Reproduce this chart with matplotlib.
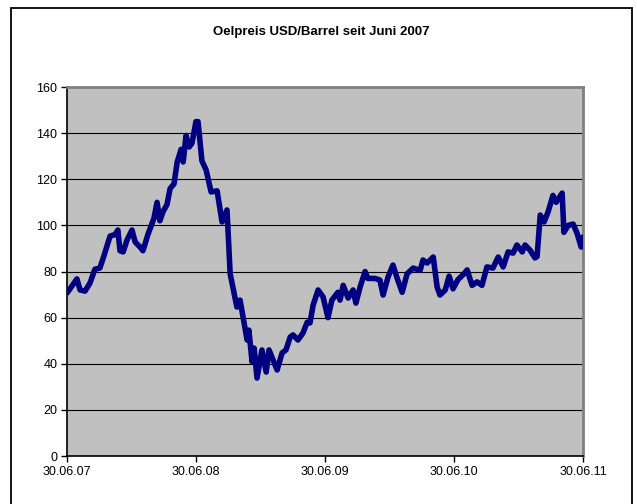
import datetime
import matplotlib
matplotlib.use("Agg")
import matplotlib.pyplot as plt
import matplotlib.dates as mdates
from matplotlib.patches import Rectangle

plt.rcParams['font.family'] = ['Liberation Sans', 'DejaVu Sans']

start = datetime.date(2007, 6, 30)

# days after 30.06.07 and oil price in USD/barrel
days = [0, 14, 28, 37, 51, 65, 79, 93, 105, 122, 136, 144, 150, 159, 170, 184,
        193, 207, 215, 229, 246, 255, 263, 272, 283, 292, 303, 312, 323, 329,
        337, 346, 354, 365, 371, 382, 394, 408, 425, 439, 453, 462, 481, 490,
        510, 515, 524, 530, 538, 552, 564, 572, 595, 609, 620, 632, 640, 654,
        668, 680, 688, 697, 711, 725, 739, 750, 767, 773, 782, 796, 810, 818,
        830, 844, 852, 872, 886, 895, 909, 923, 935, 949, 963, 980, 1000, 1008,
        1020, 1037, 1048, 1056, 1071, 1082, 1093, 1107, 1124, 1133, 1147, 1161,
        1175, 1189, 1206, 1221, 1235, 1249, 1263, 1274, 1289, 1297, 1311, 1325,
        1331, 1340, 1351, 1362, 1376, 1385, 1402, 1407, 1419, 1433, 1444, 1456,
        1461]
prices = [70.7, 73.7, 76.8, 72, 71.5, 75, 81, 81.5, 87, 95.4, 96, 98, 89, 88.5,
          93.7, 98, 92.8, 90.6, 89, 96, 103, 110, 102, 106, 109, 116, 118, 127.5,
          133, 127.5, 139, 134, 135.7, 145, 145, 128, 124, 114.5, 115, 101.5,
          106.7, 79, 64.6, 67.6, 50.3, 54.6, 40.8, 46.8, 33.8, 46, 36.4, 46,
          37.3, 44.7, 46, 51.6, 52.5, 50.3, 53.3, 58, 57.7, 65.5, 72, 69, 60,
          67.6, 71, 67.6, 74, 68.5, 72, 66.3, 73.3, 80, 77, 77, 76.3, 69.8, 77.6,
          82.8, 77, 71, 79, 81.5, 80.5, 85, 83.7, 86.3, 73.3, 69.8, 72, 78, 72.5,
          76.5, 79, 80.7, 74, 75.5, 74, 82, 81.5, 86.3, 82, 88.5, 88, 91.5, 88.5,
          91.5, 89.3, 85.9, 86.5, 104.5, 101.5, 105.8, 113, 110, 114, 97, 100,
          100.6, 96.7, 90.6, 95]

x_ticks = [datetime.date(y, 6, 30) for y in range(2007, 2012)]
y_ticks = list(range(0, 161, 20))

dates = [start + datetime.timedelta(days=d) for d in days]

fig = plt.figure(figsize=(6.37, 5.04), dpi=100)
fig.patches.append(Rectangle((0.0173, -0.01), 0.9747, 0.994, transform=fig.transFigure,
                             fill=False, edgecolor='black', linewidth=1.3))

ax = fig.add_axes([0.1052, 0.0952, 0.8100, 0.7321])
ax.set_facecolor('#C0C0C0')
ax.plot(dates, prices, color='#000080', linewidth=4.0, solid_joinstyle='round',
        solid_capstyle='round', zorder=3)

ax.set_xlim(x_ticks[0], x_ticks[-1])
ax.set_ylim(0, 160)
ax.set_xticks(x_ticks)
ax.xaxis.set_major_formatter(mdates.DateFormatter('%d.%m.%y'))
ax.set_yticks(y_ticks)
ax.yaxis.grid(True, color='black', linewidth=0.8)
ax.set_axisbelow(True)

for side in ['left', 'bottom']:
    ax.spines[side].set_color('black')
    ax.spines[side].set_linewidth(1.2)
for side in ['top', 'right']:
    ax.spines[side].set_color('#808080')
    ax.spines[side].set_linewidth(2)

ax.tick_params(axis='both', direction='out', length=4, width=1, labelsize=9,
               colors='black', pad=3)

fig.text(0.505, 0.937, 'Oelpreis USD/Barrel seit Juni 2007', ha='center', va='center',
         fontsize=9.5, fontweight='bold')

fig.savefig('out.png', dpi=100)
